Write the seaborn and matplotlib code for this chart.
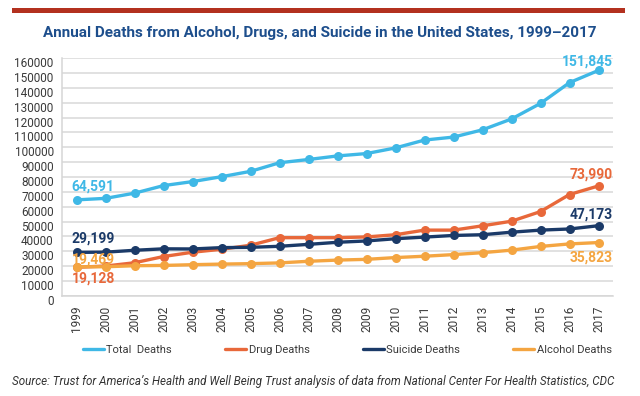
import numpy as np
import pandas as pd
import seaborn as sns
import matplotlib.pyplot as plt
import matplotlib.patches as mpatches
import matplotlib.transforms as mtransforms
from matplotlib.lines import Line2D

years = list(range(1999, 2018))
total_deaths = [64591, 65600, 69100, 74200, 76900, 80200, 83800, 89600, 91800, 94200,
                95800, 99600, 104900, 106900, 111800, 119100, 129600, 143600, 151845]
drug_deaths = [19128, 20000, 22200, 26400, 29300, 31300, 34000, 39100, 39100, 39100,
               39600, 41100, 44200, 44200, 47100, 50200, 56700, 68200, 73990]
suicide_deaths = [29199, 29350, 30600, 31600, 31500, 32400, 32600, 33300, 34600, 36000,
                  36900, 38400, 39500, 40600, 41100, 42800, 44200, 44965, 47173]
alcohol_deaths = [19469, 19500, 20200, 20400, 20900, 21300, 21600, 22100, 23200, 24000,
                  24500, 25700, 26600, 27700, 29000, 30700, 33200, 34900, 35823]

series_names = ['Total  Deaths', 'Drug Deaths', 'Suicide Deaths', 'Alcohol Deaths']
colors = {'Total  Deaths': '#3fb8e6', 'Drug Deaths': '#e8683a',
          'Suicide Deaths': '#1b3a68', 'Alcohol Deaths': '#f4a541'}

df = pd.DataFrame({'Year': years * 4,
                   'Deaths': total_deaths + drug_deaths + suicide_deaths + alcohol_deaths,
                   'Series': [s for s in series_names for _ in years]})

sns.set_style('white')
plt.rcParams['font.family'] = ['Roboto', 'DejaVu Sans']

fig = plt.figure(figsize=(6.4, 3.96), dpi=100)
ax = fig.add_axes([62 / 640, 1 - 295.7 / 396, (613 - 62) / 640, (295.7 - 58.3) / 396])

sns.lineplot(data=df, x='Year', y='Deaths', hue='Series', hue_order=series_names,
             palette=colors, marker='o', markersize=6.5, markeredgewidth=0,
             linewidth=2.4, legend=False, ax=ax)

ax.set_xlim(1998.5, 2017.5)
ax.set_ylim(0, 160000)
ax.set_yticks(np.arange(0, 160001, 10000))
ax.set_xticks(years)
ax.set_xticklabels([str(y) for y in years], rotation=90)
ax.set_xlabel('')
ax.set_ylabel('')
ax.yaxis.grid(True, color='#d9d9d9', linewidth=1.1)
ax.set_axisbelow(True)
for side in ['top', 'right']:
    ax.spines[side].set_visible(False)
for side in ['left', 'bottom']:
    ax.spines[side].set_color('#d6d6d6')
    ax.spines[side].set_linewidth(1.1)
ax.tick_params(axis='x', direction='in', length=4, color='#d0d0d0', pad=7,
               labelsize=8.5, labelcolor='#3a3a3a')
ax.tick_params(axis='y', length=0, pad=6, labelsize=8.5, labelcolor='#3a3a3a')
offset = mtransforms.ScaledTranslation(0, -4 / 100, fig.dpi_scale_trans)
for lab in ax.get_yticklabels():
    lab.set_transform(lab.get_transform() + offset)

# data labels
lab_kw = dict(fontsize=10, fontweight='bold', va='center')
ax.annotate(f'{total_deaths[0]:,}', (years[0], total_deaths[0]), xytext=(-5, 13),
            textcoords='offset pixels', color=colors['Total  Deaths'], ha='left', **lab_kw)
ax.annotate(f'{suicide_deaths[0]:,}', (years[0], suicide_deaths[0]), xytext=(-5, 14),
            textcoords='offset pixels', color=colors['Suicide Deaths'], ha='left', **lab_kw)
ax.annotate(f'{alcohol_deaths[0]:,}', (years[0], alcohol_deaths[0]), xytext=(-5, 7),
            textcoords='offset pixels', color=colors['Alcohol Deaths'], ha='left', **lab_kw)
ax.annotate(f'{drug_deaths[0]:,}', (years[0], drug_deaths[0]), xytext=(-5, -11),
            textcoords='offset pixels', color=colors['Drug Deaths'], ha='left', **lab_kw)
ax.annotate(f'{total_deaths[-1]:,}', (years[-1], total_deaths[-1]), xytext=(14, 9),
            textcoords='offset pixels', color=colors['Total  Deaths'], ha='right', **lab_kw)
ax.annotate(f'{drug_deaths[-1]:,}', (years[-1], drug_deaths[-1]), xytext=(14, 11),
            textcoords='offset pixels', color=colors['Drug Deaths'], ha='right', **lab_kw)
ax.annotate(f'{suicide_deaths[-1]:,}', (years[-1], suicide_deaths[-1]), xytext=(14, 11),
            textcoords='offset pixels', color=colors['Suicide Deaths'], ha='right', **lab_kw)
ax.annotate(f'{alcohol_deaths[-1]:,}', (years[-1], alcohol_deaths[-1]), xytext=(14, -15),
            textcoords='offset pixels', color=colors['Alcohol Deaths'], ha='right', **lab_kw)

# legend
handles = [Line2D([0], [0], color=colors[s], linewidth=2.4) for s in series_names]
fig.legend(handles, series_names, loc='center left', bbox_to_anchor=(83 / 640, 1 - 350 / 396),
           ncol=4, frameon=False, fontsize=8, handlelength=1.9, handletextpad=0.2,
           columnspacing=4.8, borderpad=0, borderaxespad=0, labelcolor='#3a3a3a')

# header bar, title, source
fig.add_artist(mpatches.Rectangle((12 / 640, 1 - 13 / 396), (625 - 12) / 640, 5 / 396,
                                  transform=fig.transFigure, color='#b3311f', lw=0))
fig.text(0.5, 1 - 33 / 396, 'Annual Deaths from Alcohol, Drugs, and Suicide in the United States, 1999–2017',
         ha='center', va='center', fontsize=11, fontweight='bold', color='#1d4e8c')
fig.text(12 / 640, 1 - 381 / 396,
         'Source: Trust for America’s Health and Well Being Trust analysis of data from National Center For Health Statistics, CDC',
         ha='left', va='center', fontsize=8.4, style='italic', color='#333333')

fig.savefig('out.png', dpi=100)
